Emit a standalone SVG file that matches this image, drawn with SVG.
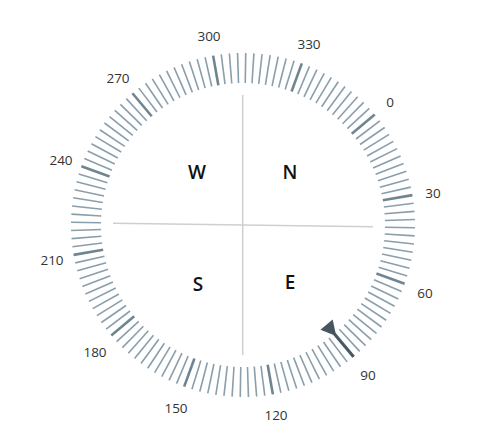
<svg xmlns="http://www.w3.org/2000/svg" xmlns:xlink="http://www.w3.org/1999/xlink" width="489" height="446" viewBox="0 0 489 446">
<style>
.minor{stroke:#8a9eab;stroke-width:1.6;}
.major{stroke:#6f8592;stroke-width:2.6;}
.cross{stroke:#cfcfcf;stroke-width:1.5;fill:none;}
.lbl{font-family:"Open Sans","Noto Sans",sans-serif;font-size:13.5px;fill:#333;text-anchor:middle;dominant-baseline:central;}
.dir{font-family:"Open Sans","Noto Sans",sans-serif;font-size:19px;font-weight:600;fill:#111;text-anchor:middle;dominant-baseline:central;}
</style>
<defs>
<g id="seg">
<line class="major" x1="243" y1="53" x2="243" y2="83"/>
<line class="minor" x1="243" y1="53" x2="243" y2="83" transform="rotate(2.727 243 225)"/>
<line class="minor" x1="243" y1="53" x2="243" y2="83" transform="rotate(5.455 243 225)"/>
<line class="minor" x1="243" y1="53" x2="243" y2="83" transform="rotate(8.182 243 225)"/>
<line class="minor" x1="243" y1="53" x2="243" y2="83" transform="rotate(10.909 243 225)"/>
<line class="minor" x1="243" y1="53" x2="243" y2="83" transform="rotate(13.636 243 225)"/>
<line class="minor" x1="243" y1="53" x2="243" y2="83" transform="rotate(16.364 243 225)"/>
<line class="minor" x1="243" y1="53" x2="243" y2="83" transform="rotate(19.091 243 225)"/>
<line class="minor" x1="243" y1="53" x2="243" y2="83" transform="rotate(21.818 243 225)"/>
<line class="minor" x1="243" y1="53" x2="243" y2="83" transform="rotate(24.545 243 225)"/>
<line class="minor" x1="243" y1="53" x2="243" y2="83" transform="rotate(27.273 243 225)"/>
</g>
</defs>
<g id="cross">
<line class="cross" x1="242.7" y1="95" x2="242.7" y2="355"/>
<line class="cross" x1="113" y1="223.3" x2="373" y2="226.7"/>
</g>
<g id="ticks">
<use xlink:href="#seg" href="#seg" transform="rotate(50 243 225)"/>
<use xlink:href="#seg" href="#seg" transform="rotate(80 243 225)"/>
<use xlink:href="#seg" href="#seg" transform="rotate(110 243 225)"/>
<use xlink:href="#seg" href="#seg" transform="rotate(140 243 225)"/>
<use xlink:href="#seg" href="#seg" transform="rotate(170 243 225)"/>
<use xlink:href="#seg" href="#seg" transform="rotate(200 243 225)"/>
<use xlink:href="#seg" href="#seg" transform="rotate(230 243 225)"/>
<use xlink:href="#seg" href="#seg" transform="rotate(260 243 225)"/>
<use xlink:href="#seg" href="#seg" transform="rotate(290 243 225)"/>
<use xlink:href="#seg" href="#seg" transform="rotate(320 243 225)"/>
<use xlink:href="#seg" href="#seg" transform="rotate(350 243 225)"/>
<use xlink:href="#seg" href="#seg" transform="rotate(20 243 225)"/>
</g>
<g id="labels">
<text class="lbl" x="390" y="102">0</text>
<text class="lbl" x="433" y="193">30</text>
<text class="lbl" x="425" y="293">60</text>
<text class="lbl" x="368" y="375">90</text>
<text class="lbl" x="276" y="415">120</text>
<text class="lbl" x="176" y="408">150</text>
<text class="lbl" x="95" y="352">180</text>
<text class="lbl" x="52" y="260">210</text>
<text class="lbl" x="61" y="160">240</text>
<text class="lbl" x="118" y="78">270</text>
<text class="lbl" x="209" y="36">300</text>
<text class="lbl" x="309" y="44">330</text>
</g>
<g id="pointer" transform="rotate(140 243 225)">
<line x1="243" y1="53" x2="243" y2="83" stroke="#4a5a65" stroke-width="3"/>
<polygon points="243,80 235,95 251,95" fill="#46555f"/>
</g>
<g id="directions">
<text class="dir" x="197" y="172">W</text>
<text class="dir" x="290" y="172">N</text>
<text class="dir" x="198" y="284">S</text>
<text class="dir" x="290" y="282">E</text>
</g>
</svg>
